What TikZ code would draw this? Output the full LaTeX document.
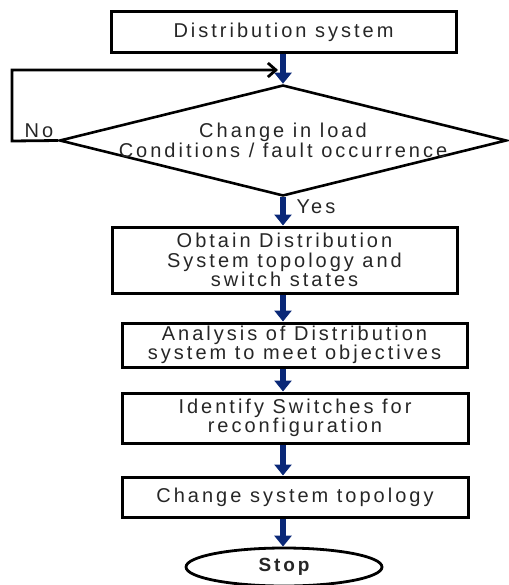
\documentclass[tikz,border=0pt]{standalone}
\usepackage{fontspec}
\setmainfont{Liberation Sans}[LetterSpace=15]
\usetikzlibrary{shapes.geometric,arrows.meta}
\definecolor{flowblue}{RGB}{10,40,120}

\begin{document}
\begin{tikzpicture}[x=1pt,y=-1pt,font=\fontsize{20}{19.5}\selectfont,text=black!85]
        \tikzstyle{block}=[rectangle,draw=black,line width=3pt,minimum width=345pt,align=center,inner sep=0pt]
        \tikzstyle{decision}=[diamond,draw=black,line width=2.6pt,minimum width=447pt,minimum height=111pt,inner sep=0pt]
        \tikzstyle{stopnode}=[ellipse,draw=black,line width=2.8pt,minimum width=196pt,minimum height=38pt,font=\fontsize{19}{19.5}\selectfont\bfseries]
        \tikzstyle{flow}=[draw=flowblue,line width=6pt,-{Triangle[width=17pt,length=11pt]}]
        \tikzstyle{back}=[draw=black,line width=2.8pt,-{Straight Barb[length=8pt,width=14pt]}]
        \useasboundingbox (0,0) rectangle (508,585);
       \begin{scope}
         \node [block,minimum height=41pt] (dist) at (283.5,32.5) {Distribution system};
         \node [decision] (change) at (283,140.5) {};
         \node [align=center,inner sep=0pt] (changetxt) at (change.center) {Change in load\\Conditions / fault occurrence};
         \node [block,minimum height=66pt] (obtain) at (284.5,260) {Obtain Distribution\\System topology and\\switch states};
         \node [block,minimum height=44pt] (analysis) at (294.5,345) {Analysis of Distribution\\system to meet objectives};
         \node [block,minimum height=50pt,minimum width=346pt] (identify) at (295,418) {Identify Switches for\\reconfiguration};
         \node [block,minimum height=40pt,minimum width=346pt] (topo) at (295,497) {Change system topology};
         \node [stopnode] (stop) at (284,567) {Stop};
         \node (no) at (39,131) {No};
         \node (yes) at (316,207) {Yes};
         \coordinate (nocorner) at (12,141);
         \coordinate (merge) at (278,70);
         \draw[flow] (dist.south -| change.north) -- (change.north);
         \draw[flow] (change.south) -- (change.south |- obtain.north);
         \draw[flow] (change.south |- obtain.south) -- (change.south |- analysis.north);
         \draw[flow] (change.south |- analysis.south) -- (change.south |- identify.north);
         \draw[flow] (change.south |- identify.south) -- (change.south |- topo.north);
         \draw[flow] (change.south |- topo.south) -- (change.south |- stop.north);
         \draw[back] (change.west) -- (nocorner) |- (merge);
        \end{scope}
      \end{tikzpicture}
\end{document}
